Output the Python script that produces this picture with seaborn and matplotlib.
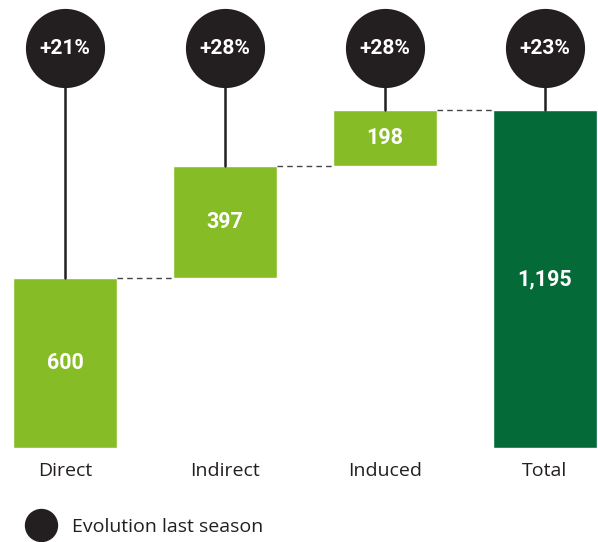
import matplotlib
matplotlib.use("Agg")
import matplotlib.pyplot as plt
from matplotlib.lines import Line2D
import seaborn as sns
import pandas as pd

categories = ["Direct", "Indirect", "Induced", "Total"]
values = [600, 397, 198, 1195]
bases = [0, 600, 997, 0]
evolution = ["+21%", "+28%", "+28%", "+23%"]
value_labels = ["600", "397", "198", "1,195"]

LIGHT = "#86BC25"
DARK = "#046A38"
INK = "#231F20"
BOLD_FAMILY = ["Roboto", "DejaVu Sans"]

sns.set_theme(style="white")
plt.rcParams["font.family"] = ["Open Sans", "DejaVu Sans"]

df = pd.DataFrame({"category": categories, "value": values, "base": bases})

fig = plt.figure(figsize=(5.98, 5.42), dpi=100)
ax = fig.add_axes([0, 94 / 542, 1, 448 / 542])

sns.barplot(data=df, x="category", y="value", bottom=df["base"], color=LIGHT,
            width=0.65, errorbar=None, saturation=1, ax=ax)
ax.patches[3].set_facecolor(DARK)

ax.set_xlim(-65 / 160, 533 / 160)
ax.set_ylim(0, 1584)

tops = [b + v for b, v in zip(bases, values)]
circle_y = 1414

# stems, circles and evolution labels
for i, top in enumerate(tops):
    ax.plot([i, i], [top, circle_y], color=INK, lw=1.8, zorder=1)
ax.scatter(range(len(categories)), [circle_y] * len(categories), s=57 ** 2,
           color=INK, zorder=3, clip_on=False, linewidths=0)
for i, ev in enumerate(evolution):
    ax.text(i, circle_y, ev, color="white", ha="center", va="center",
            fontsize=15, fontweight="bold", family=BOLD_FAMILY, zorder=4)

# dashed connectors between bars
for i in range(len(categories) - 1):
    ax.plot([i + 0.325, i + 1 - 0.325], [tops[i], tops[i]], color="#444444",
            lw=1, ls=(0, (4, 3)), zorder=1)

# value labels inside bars
for i, (b, v, lab) in enumerate(zip(bases, values, value_labels)):
    ax.text(i, b + v / 2, lab, color="white", ha="center", va="center",
            fontsize=15.5, fontweight="bold", family=BOLD_FAMILY, zorder=4)

ax.set_xlabel("")
ax.set_ylabel("")
ax.set_yticks([])
ax.tick_params(axis="x", length=0, pad=10, labelsize=14, labelcolor=INK)
sns.despine(ax=ax, left=True, bottom=True)

handle = Line2D([], [], marker="o", linestyle="", markersize=23,
                markerfacecolor=INK, markeredgecolor=INK)
fig.legend([handle], ["Evolution last season"], loc="center left",
           bbox_to_anchor=(12 / 598, 1 - 527 / 542), frameon=False,
           fontsize=14, handletextpad=0.6, labelcolor=INK, borderpad=0)

fig.savefig("out.png", dpi=100, facecolor="white")
